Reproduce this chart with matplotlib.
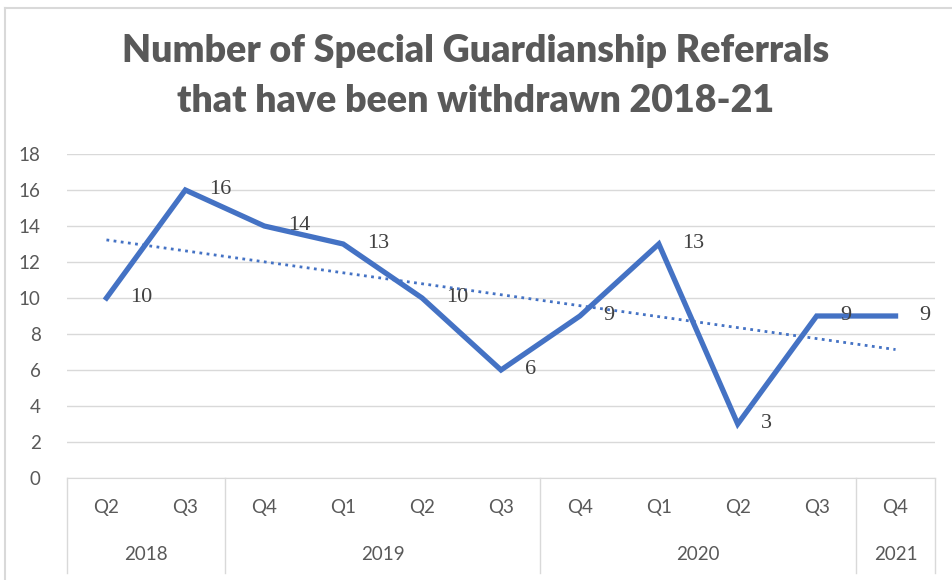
#!/usr/bin/env python3
"""
Special Guardianship referrals withdrawn, 2018-21, with linear trend.
"""

import numpy as np
import matplotlib
matplotlib.use("Agg")
import matplotlib.pyplot as plt
import matplotlib.transforms as mtransforms

quarters = ["Q2", "Q3", "Q4", "Q1", "Q2", "Q3", "Q4", "Q1", "Q2", "Q3", "Q4"]
years = ["2018", "2019", "2020", "2021"]
year_spans = [(0, 1), (2, 5), (6, 9), (10, 10)]  # first/last quarter index per year label
withdrawn = [10, 16, 14, 13, 10, 6, 9, 13, 3, 9, 9]

BLUE = "#4472C4"
GREY_TXT = "#595959"
GRID = "#D9D9D9"


def main():
    fig = plt.figure(figsize=(9.52, 5.8), dpi=100)
    W, H = 952, 580
    left, right, top, bottom = 67, 935, 154, 478
    ax = fig.add_axes([left / W, 1 - bottom / H, (right - left) / W, (bottom - top) / H])

    x = np.arange(len(withdrawn))
    ax.plot(x, withdrawn, color=BLUE, lw=3.8, solid_joinstyle="miter", zorder=3)

    # linear trendline, like Excel's
    slope, icpt = np.polyfit(x, withdrawn, 1)
    ax.plot(x, slope * x + icpt, color=BLUE, lw=2, ls=(0, (1, 1.6)), zorder=2)

    for xi, v in zip(x, withdrawn):
        ax.annotate(str(v), (xi, v), xytext=(17, 0), textcoords="offset points",
                    ha="left", va="center", fontsize=16, color="#404040",
                    family="Liberation Serif", zorder=4)

    ax.set_xlim(-0.5, len(withdrawn) - 0.5)
    ax.set_ylim(0, 18)
    ax.set_yticks(range(0, 19, 2))
    ax.yaxis.grid(True, color=GRID, lw=1)
    ax.set_axisbelow(True)
    ax.tick_params(axis="y", length=0, pad=19, labelsize=13.5, labelcolor=GREY_TXT)
    for lbl in ax.get_yticklabels():
        lbl.set_family("Lato")
    ax.set_xticks([])
    for s in ["top", "right", "left"]:
        ax.spines[s].set_visible(False)
    ax.spines["bottom"].set_color(GRID)

    # two-level category axis drawn under the plot
    trans = mtransforms.blended_transform_factory(ax.transData, ax.transAxes)
    box_h = -95 / 324
    for sep in [-0.5, 1.5, 5.5, 9.5, 10.5]:
        ax.plot([sep, sep], [0, box_h], transform=trans, color=GRID, lw=1, clip_on=False)
    for xi, q in zip(x, quarters):
        ax.text(xi, -30 / 324, q, transform=trans, ha="center", va="center",
                fontsize=13.5, color=GREY_TXT, family="Lato")
    for yr, (a, b) in zip(years, year_spans):
        ax.text((a + b) / 2, -77 / 324, yr, transform=trans, ha="center", va="center",
                fontsize=13.5, color=GREY_TXT, family="Lato")

    fig.text(0.5, 1 - 51 / H, "Number of Special Guardianship Referrals", ha="center",
             va="center", fontsize=27, fontweight="heavy", color=GREY_TXT, family="Lato")
    fig.text(0.5, 1 - 101 / H, "that have been withdrawn 2018-21", ha="center",
             va="center", fontsize=27, fontweight="heavy", color=GREY_TXT, family="Lato")

    # chart area border
    fig.add_artist(plt.Line2D([5 / W, 5 / W], [0, 1 - 8 / H], transform=fig.transFigure,
                              color=GRID, lw=1.5))
    fig.add_artist(plt.Line2D([5 / W, 1], [1 - 8 / H, 1 - 8 / H], transform=fig.transFigure,
                              color=GRID, lw=1.5))

    fig.savefig("out.png", dpi=100)


if __name__ == "__main__":
    main()
